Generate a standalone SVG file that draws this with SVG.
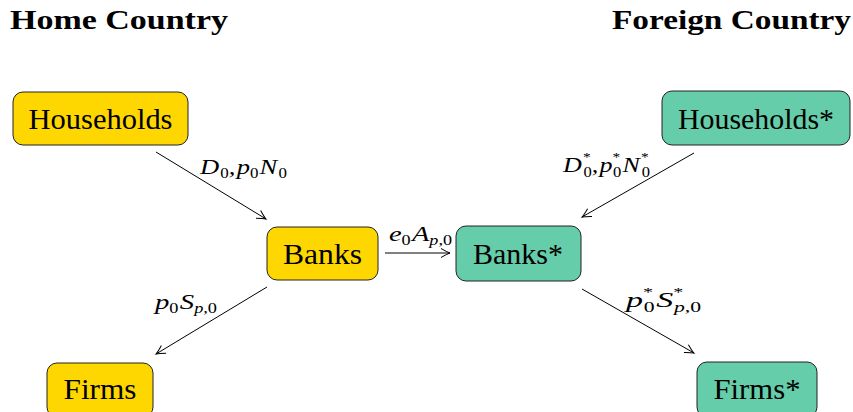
<svg xmlns="http://www.w3.org/2000/svg" width="853" height="412" viewBox="0 0 853 412">
<style>
.title{font-family:"Liberation Serif","DejaVu Serif",serif;font-weight:bold;font-size:27px;fill:#000}
.node{stroke:#222;stroke-width:1}
.home{fill:#FFD700}
.foreign{fill:#66CDAA}
.lbl{font-family:"Liberation Serif","DejaVu Serif",serif;font-size:29px;fill:#000;text-anchor:middle}
.math{font-family:"Liberation Serif","DejaVu Serif",serif;font-style:italic;font-size:22px;fill:#000}
.sub{font-style:normal;font-size:14px}
.subi{font-style:italic;font-size:14px}
.star{font-style:normal;font-size:13px}
.edge{stroke:#000;stroke-width:1;fill:none;marker-end:url(#tip)}
</style>
<defs>
<marker id="tip" viewBox="-10 -6 12 12" refX="0" refY="0" markerWidth="12" markerHeight="12" markerUnits="userSpaceOnUse" orient="auto">
<path d="M-9,-4.5 Q-3,-1 0,0 Q-3,1 -9,4.5" fill="none" stroke="#000" stroke-width="1"/>
</marker>
</defs>
<rect width="853" height="412" fill="#fff"/>
<text class="title" x="10" y="29" textLength="218" lengthAdjust="spacingAndGlyphs">Home Country</text>
<text class="title" x="612" y="29" textLength="239" lengthAdjust="spacingAndGlyphs">Foreign Country</text>

<g id="households">
<rect class="node home" x="13" y="92" width="175" height="53" rx="10"/>
<text class="lbl" x="100.5" y="129" textLength="144" lengthAdjust="spacingAndGlyphs">Households</text>
</g>
<g id="banks">
<rect class="node home" x="267" y="227" width="111" height="53" rx="10"/>
<text class="lbl" x="322.5" y="264" textLength="79" lengthAdjust="spacingAndGlyphs">Banks</text>
</g>
<g id="firms">
<rect class="node home" x="47" y="363" width="106" height="54" rx="10"/>
<text class="lbl" x="100" y="399" textLength="73" lengthAdjust="spacingAndGlyphs">Firms</text>
</g>
<g id="households-star">
<rect class="node foreign" x="662" y="91" width="188" height="54" rx="10"/>
<text class="lbl" x="756" y="129" textLength="156" lengthAdjust="spacingAndGlyphs">Households*</text>
</g>
<g id="banks-star">
<rect class="node foreign" x="456" y="226" width="125" height="55" rx="10"/>
<text class="lbl" x="518" y="264" textLength="90" lengthAdjust="spacingAndGlyphs">Banks*</text>
</g>
<g id="firms-star">
<rect class="node foreign" x="697" y="362" width="120" height="55" rx="10"/>
<text class="lbl" x="757" y="399" textLength="87" lengthAdjust="spacingAndGlyphs">Firms*</text>
</g>

<g id="connectors">
<line class="edge" x1="156" y1="152" x2="266" y2="219"/>
<line class="edge" x1="694" y1="153" x2="582" y2="217"/>
<line class="edge" x1="385" y1="253" x2="450" y2="253"/>
<line class="edge" x1="267" y1="287" x2="156" y2="354"/>
<line class="edge" x1="582" y1="289" x2="694" y2="353"/>
<text class="math" x="200" y="174" textLength="87" lengthAdjust="spacingAndGlyphs">D<tspan class="sub" dx="1" dy="4">0</tspan><tspan dy="-4">,</tspan><tspan dx="1">p</tspan><tspan class="sub" dy="4">0</tspan><tspan dx="1" dy="-4">N</tspan><tspan class="sub" dx="1" dy="4">0</tspan></text>
<text class="math" x="389" y="241" textLength="63" lengthAdjust="spacingAndGlyphs">e<tspan class="sub" dy="4">0</tspan><tspan dx="1" dy="-4">A</tspan><tspan class="subi" dy="4">p</tspan><tspan class="sub">,0</tspan></text>
<text class="math" x="563" y="172" textLength="87" lengthAdjust="spacingAndGlyphs">D<tspan class="star" dx="1" dy="-11">*</tspan><tspan class="sub" dx="-6" dy="16">0</tspan><tspan dy="-5">,</tspan><tspan dx="1">p</tspan><tspan class="star" dy="-11">*</tspan><tspan class="sub" dx="-6" dy="16">0</tspan><tspan dx="1" dy="-5">N</tspan><tspan class="star" dx="1" dy="-11">*</tspan><tspan class="sub" dx="-6" dy="16">0</tspan></text>
<text class="math" x="155" y="309" textLength="62" lengthAdjust="spacingAndGlyphs">p<tspan class="sub" dy="4">0</tspan><tspan dx="1" dy="-4">S</tspan><tspan class="subi" dy="4">p</tspan><tspan class="sub">,0</tspan></text>
<text class="math" x="626" y="307" textLength="75" lengthAdjust="spacingAndGlyphs">p<tspan class="star" dy="-11">*</tspan><tspan class="sub" dx="-6" dy="16">0</tspan><tspan dx="1" dy="-5">S</tspan><tspan class="star" dy="-11">*</tspan><tspan class="subi" dx="-6" dy="16">p</tspan><tspan class="sub">,0</tspan></text>
</g>
</svg>
